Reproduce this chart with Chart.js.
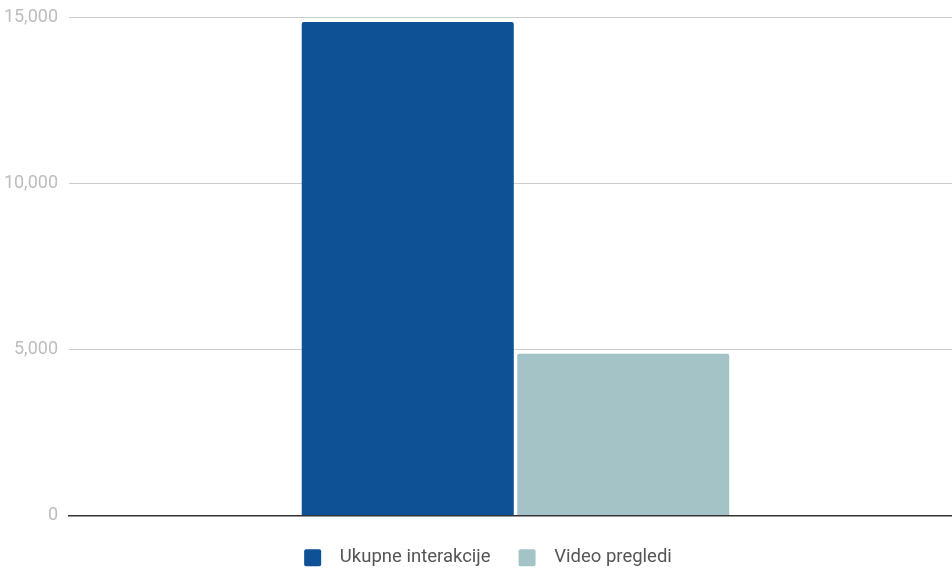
<!DOCTYPE html>
<html>
<head>
<meta charset="utf-8">
<script src="https://cdn.jsdelivr.net/npm/chart.js@4.4.1/dist/chart.umd.min.js"></script>
<style>
  html, body { margin: 0; padding: 0; background: #fff; overflow: hidden; }
  #outer { width: 952px; height: 570px; overflow: hidden; position: relative; }
  #wrap { width: 962px; height: 577px; position: absolute; left: 0; top: 0; }
</style>
</head>
<body>
<div id="outer"><div id="wrap"><canvas id="chart"></canvas></div></div>
<script>
// Podaci grafikona
var kategorije = [''];
var ukupneInterakcije = [14850];
var videoPregledi = [4870];
var yTicks = [0, 5000, 10000, 15000];

var ctx = document.getElementById('chart').getContext('2d');

// pomakni legendu malo udesno (kao u originalu)
var legendShift = {
    id: 'legendShift',
    beforeDraw: function (chart) {
        if (chart.legend && !chart.legend._shifted) {
            chart.legend.left += 7;
            chart.legend.right += 7;
            chart.legend._shifted = true;
        }
    }
};

new Chart(ctx, {
    type: 'bar',
    data: {
        labels: kategorije,
        datasets: [
            {
                label: 'Ukupne interakcije',
                backgroundColor: '#0e5194',
                data: ukupneInterakcije,
                borderRadius: 2,
                borderSkipped: 'bottom'
            },
            {
                label: 'Video pregledi',
                backgroundColor: '#a3c3c7',
                data: videoPregledi,
                borderRadius: 2,
                borderSkipped: 'bottom'
            }
        ]
    },
    options: {
        responsive: true,
        maintainAspectRatio: false,
        animation: false,
        layout: { padding: { top: 17, right: 0, left: 0, bottom: 0 } },
        datasets: {
            bar: { categoryPercentage: 0.4826, barPercentage: 0.984 }
        },
        plugins: {
            legend: {
                position: 'bottom',
                labels: {
                    boxWidth: 17,
                    boxHeight: 17,
                    padding: 28,
                    color: '#555',
                    font: { family: 'Roboto', size: 18.5 },
                    useBorderRadius: true,
                    borderRadius: 2,
                    // malo više razmaka između kvadrata i teksta
                    generateLabels: function (chart) {
                        var items = Chart.defaults.plugins.legend.labels.generateLabels(chart);
                        items.forEach(function (it) { it.text = '\u2002' + it.text; });
                        return items;
                    }
                }
            },
            tooltip: { enabled: false }
        },
        scales: {
            x: {
                grid: { display: false, drawTicks: false },
                border: { display: true, color: '#333', width: 1.5 },
                ticks: { display: false },
                afterFit: function (scale) { scale.height = 5; }
            },
            y: {
                min: 0,
                max: 15000,
                afterBuildTicks: function (scale) {
                    scale.ticks = yTicks.map(function (v) { return { value: v }; });
                },
                afterFit: function (scale) {
                    scale.width = 69;
                    scale.paddingTop = 0;
                    scale.paddingBottom = 0;
                },
                grid: { color: '#cccccc', drawTicks: false },
                border: { display: false },
                ticks: {
                    padding: 11,
                    color: '#bdbdbd',
                    font: { family: 'Roboto', size: 18 },
                    callback: function (v) { return v.toLocaleString('en-US'); }
                }
            }
        }
    },
    plugins: [legendShift]
});
</script>
</body>
</html>
